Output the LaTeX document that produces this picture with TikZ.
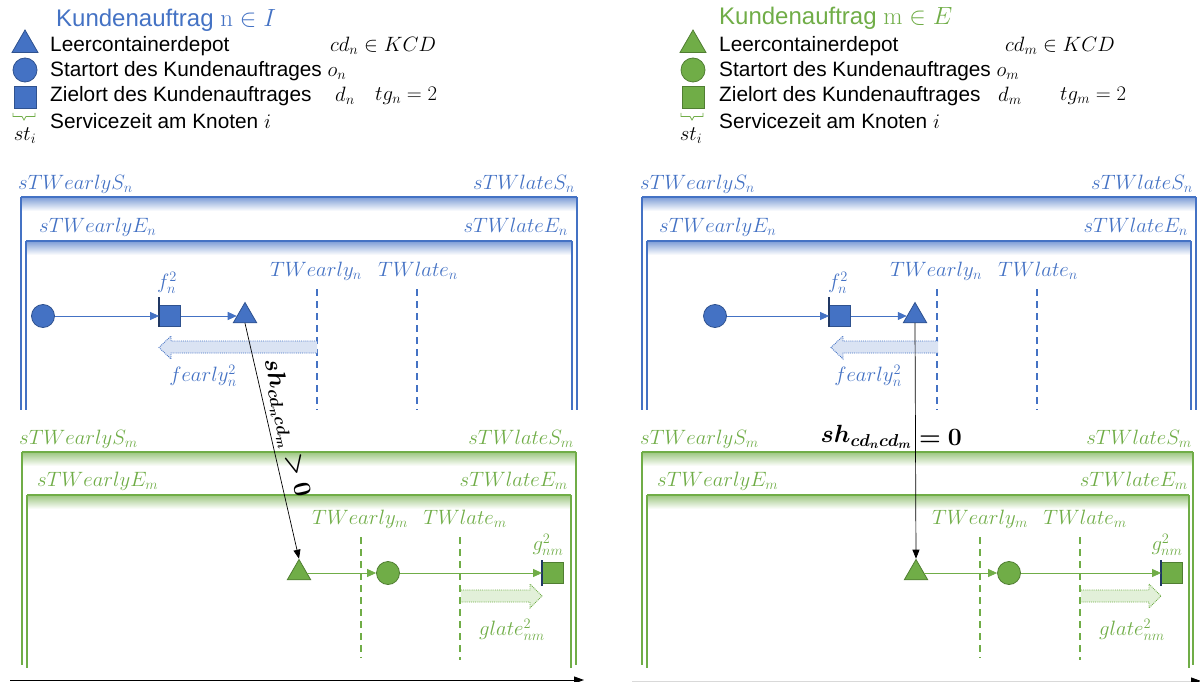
\documentclass[tikz,border=0pt]{standalone}
\usepackage[no-math]{fontspec}
\setmainfont{Liberation Sans}
\usepackage{amsmath,bm}
\usetikzlibrary{shapes.geometric,arrows.meta}

\definecolor{cb}{HTML}{4472C4}
\definecolor{cg}{HTML}{70AD47}
\definecolor{cbd}{HTML}{2F528F}
\definecolor{cgd}{HTML}{507E32}
\definecolor{navy}{HTML}{203864}
\definecolor{cbl}{HTML}{DAE3F3}
\definecolor{cgl}{HTML}{E2F0D9}

% time-window frame: colour, x left, x right, y top, y bottom
\newcommand\twframe[5]{%
  \shade[top color=#1!70, bottom color=white] (#2,#4) rectangle (#3,#4+14);
  \draw[#1, line width=1.2pt] (#2,#4) -- (#3,#4);
  \draw[#1, line width=1.4pt] (#2,#4) -- (#2,#5) (#3,#4) -- (#3,#5);
}

\begin{document}
\begin{tikzpicture}[x=1pt,y=-1pt,
  lb/.style={text=cb, font=\fontsize{21}{24}\selectfont, inner sep=1pt},
  lg/.style={text=cg, font=\fontsize{21}{24}\selectfont, inner sep=1pt},
  legtxt/.style={anchor=west, font=\fontsize{20.8}{24}\selectfont, inner sep=0pt},
  legmath/.style={anchor=west, font=\fontsize{21}{24}\selectfont, inner sep=0pt},
  tri/.style={regular polygon, regular polygon sides=3, inner sep=0pt, minimum size=27pt, line width=0.8pt},
  circ/.style={circle, inner sep=0pt, minimum size=23pt, line width=0.8pt},
  sq/.style={rectangle, inner sep=0pt, minimum size=21pt, line width=0.8pt},
  bnode/.style={fill=cb, draw=cbd},
  gnode/.style={fill=cg, draw=cgd},
  flow/.style={line width=0.8pt, -{Triangle[length=9pt,width=8pt]}},
  tw/.style={line width=2pt, dash pattern=on 7pt off 5pt},
  moveline/.style={black, line width=0.7pt, -{Triangle[length=9pt,width=7pt]}},
  edgemark/.style={navy, line width=2pt},
  fat/.style={densely dotted, line width=0.9pt},
  shlabel/.style={font=\fontsize{23}{26}\selectfont, inner sep=1pt},
]
\useasboundingbox (0,0) rectangle (1200,682);

% ---------------- legend, order n ----------------
\node[anchor=west, text=cb, font=\fontsize{24}{28}\selectfont, inner sep=0pt] (hn) at (56,20) {Kundenauftrag $\mathrm{n}\in I$};
\node[tri, bnode, minimum size=30pt] (ltn) at (25,45) {};
\node[circ, bnode, minimum size=24pt] (lcn) at (25,70) {};
\node[sq, bnode, minimum size=22pt] (lsn) at (25,97) {};
\draw[cg, line width=0.8pt] (13,113) -- (13,116.5) -- (22,116.5) -- (24,120) -- (26,116.5) -- (35,116.5) -- (35,113);
\node[legmath, anchor=center] (stn) at (25,136) {$st_i$};
\node[legtxt] (t1n) at (50,46) {Leercontainerdepot};
\node[legtxt] (t2n) at (50,71) {Startort des Kundenauftrages $o_n$};
\node[legtxt] (t3n) at (50,96) {Zielort des Kundenauftrages};
\node[legtxt] (t4n) at (50,121) {Servicezeit am Knoten $i$};
\node[legmath] (m1n) at (330,46) {$cd_n\in KCD$};
\node[legmath] (m2n) at (335,96) {$d_n$};
\node[legmath] (m3n) at (375,96) {$tg_n=2$};

% ---------------- legend, order m ----------------
\node[anchor=west, text=cg, font=\fontsize{24}{28}\selectfont, inner sep=0pt] (hm) at (719,18) {Kundenauftrag $\mathrm{m}\in E$};
\node[tri, gnode, minimum size=30pt] (ltm) at (693,45) {};
\node[circ, gnode, minimum size=24pt] (lcm) at (693,70) {};
\node[sq, gnode, minimum size=22pt] (lsm) at (693,97) {};
\draw[cg, line width=0.8pt] (681,113) -- (681,116.5) -- (690,116.5) -- (692,120) -- (694,116.5) -- (703,116.5) -- (703,113);
\node[legmath, anchor=center] (stm) at (691,136) {$st_i$};
\node[legtxt] (t1m) at (719,46) {Leercontainerdepot};
\node[legtxt] (t2m) at (719,71) {Startort des Kundenauftrages $o_m$};
\node[legtxt] (t3m) at (719,96) {Zielort des Kundenauftrages};
\node[legtxt] (t4m) at (719,121) {Servicezeit am Knoten $i$};
\node[legmath] (m1m) at (1005,46) {$cd_m\in KCD$};
\node[legmath] (m2m) at (998,96) {$d_m$};
\node[legmath] (m3m) at (1060,96) {$tg_m=2$};

% ================= left scenario =================
% order n
\twframe{cb}{21}{577}{197}{410}
\twframe{cb}{26}{572}{241}{410}
\node[lb, anchor=west] (a1) at (17,184) {$sTWearlyS_n$};
\node[lb, anchor=east] (a2) at (576,184) {$sTWlateS_n$};
\node[lb, anchor=west] (a3) at (38,227) {$sTWearlyE_n$};
\node[lb, anchor=east] (a4) at (569,227) {$sTWlateE_n$};
\node[lb] (a5) at (316,271) {$TWearly_n$};
\node[lb] (a6) at (418,271) {$TWlate_n$};
\draw[cb, tw] (317,289) -- (317,410);
\draw[cb, tw] (417,289) -- (417,410);
\draw[cb, fat, fill=cbl] (317,341) -- (171,341) -- (171,336) -- (159,347.5) -- (171,359) -- (171,353) -- (317,353);
\node[lb] (a7) at (203,376) {$fearly_n^2$};
\node[circ, bnode] (Lo) at (43,316) {};
\node[sq, bnode] (Ld) at (170,316) {};
\node[tri, bnode] (Lc) at (245,316) {};
\draw[edgemark] ([yshift=8pt]Ld.north west) -- (Ld.south west);
\node[lb] (a8) at (167,283) {$f_n^2$};
\draw[cb, flow] (Lo) -- (Ld);
\draw[cb, flow] (Ld.east) -- (Lc.west);

% order m
\twframe{cg}{22}{576}{452}{665}
\twframe{cg}{27}{571}{495}{668}
\node[lg, anchor=west] (b1) at (18,439) {$sTWearlyS_m$};
\node[lg, anchor=east] (b2) at (575,439) {$sTWlateS_m$};
\node[lg, anchor=west] (b3) at (36,481) {$sTWearlyE_m$};
\node[lg, anchor=east] (b4) at (569,481) {$sTWlateE_m$};
\node[lg] (b5) at (360,519) {$TWearly_m$};
\node[lg] (b6) at (465,519) {$TWlate_m$};
\draw[cg, tw] (361,537) -- (361,658);
\draw[cg, tw] (460,537) -- (460,660);
\draw[cg, fat, fill=cgl] (461,590) -- (530,590) -- (530,584) -- (542,596) -- (530,608) -- (530,602) -- (461,602);
\node[lg] (b7) at (512,630) {$glate_{nm}^2$};
\node[tri, gnode] (Mc) at (299,573) {};
\node[circ, gnode] (Mo) at (388,573) {};
\node[sq, gnode] (Md) at (553,573) {};
\draw[edgemark] ([yshift=2pt]Md.north west) -- ([yshift=-2pt]Md.south west);
\node[lg] (b8) at (548,545) {$g_{nm}^2$};
\draw[cg, flow] (Mc.east |- Mo.west) -- (Mo.west);
\draw[cg, flow] (Mo.east) -- (Md.west);

% reposition of the empty container
\draw[moveline] (Lc.south) -- node[pos=0.46, sloped, above=3pt, shlabel] (sh1) {$\bm{sh_{cd_ncd_m}>0}$} (Mc.north);

% time axis
\coordinate (ax1) at (10,680);
\coordinate (ax2) at (584,680);
\draw[black, line width=1pt, -{Triangle[length=10pt,width=7pt]}] (ax1) -- (ax2);

% ================= right scenario =================
% order n
\twframe{cb}{642}{1196}{197}{410}
\twframe{cb}{647}{1191}{241}{410}
\node[lb, anchor=west] (c1) at (639,184) {$sTWearlyS_n$};
\node[lb, anchor=east] (c2) at (1194,184) {$sTWlateS_n$};
\node[lb, anchor=west] (c3) at (658,227) {$sTWearlyE_n$};
\node[lb, anchor=east] (c4) at (1189,227) {$sTWlateE_n$};
\node[lb] (c5) at (936,271) {$TWearly_n$};
\node[lb] (c6) at (1038,271) {$TWlate_n$};
\draw[cb, tw] (937,289) -- (937,410);
\draw[cb, tw] (1037,289) -- (1037,410);
\draw[cb, fat, fill=cbl] (938,341) -- (843,341) -- (843,336) -- (831,347.5) -- (843,359) -- (843,353) -- (938,353);
\node[lb] (c7) at (868,376) {$fearly_n^2$};
\node[circ, bnode] (Ro) at (715,316) {};
\node[sq, bnode] (Rd) at (840,316) {};
\node[tri, bnode] (Rc) at (915,316) {};
\draw[edgemark] ([yshift=8pt]Rd.north west) -- (Rd.south west);
\node[lb] (c8) at (838,283) {$f_n^2$};
\draw[cb, flow] (Ro) -- (Rd);
\draw[cb, flow] (Rd.east) -- (Rc.west);

% order m
\twframe{cg}{642}{1193}{452}{665}
\twframe{cg}{647}{1189}{495}{668}
\node[lg, anchor=west] (d1) at (639,439) {$sTWearlyS_m$};
\node[lg, anchor=east] (d2) at (1193,439) {$sTWlateS_m$};
\node[lg, anchor=west] (d3) at (656,481) {$sTWearlyE_m$};
\node[lg, anchor=east] (d4) at (1189,481) {$sTWlateE_m$};
\node[lg] (d5) at (980,519) {$TWearly_m$};
\node[lg] (d6) at (1085,519) {$TWlate_m$};
\draw[cg, tw] (980,537) -- (980,658);
\draw[cg, tw] (1080,537) -- (1080,660);
\draw[cg, fat, fill=cgl] (1081,590) -- (1149,590) -- (1149,584) -- (1161,596) -- (1149,608) -- (1149,602) -- (1081,602);
\node[lg] (d7) at (1132,630) {$glate_{nm}^2$};
\node[tri, gnode] (Nc) at (916,573) {};
\node[circ, gnode] (No) at (1009,573) {};
\node[sq, gnode] (Nd) at (1172,573) {};
\draw[edgemark] ([yshift=2pt]Nd.north west) -- ([yshift=-2pt]Nd.south west);
\node[lg] (d8) at (1167,545) {$g_{nm}^2$};
\draw[cg, flow] (Nc.east |- No.west) -- (No.west);
\draw[cg, flow] (No.east) -- (Nd.west);

% no reposition needed
\draw[moveline] (Rc.south) -- (Nc.north);
\node[shlabel, anchor=east] (sh2a) at (913,437) {$\bm{sh_{cd_ncd_m}}$};
\node[shlabel, anchor=west] (sh2b) at (918,437) {$\bm{=0}$};

% time axis
\coordinate (ax3) at (632,681);
\coordinate (ax4) at (1201,681);
\draw[black!15, line width=1pt, -{Triangle[length=10pt,width=7pt,black]}] (ax3) -- (ax4);
\end{tikzpicture}
\end{document}
